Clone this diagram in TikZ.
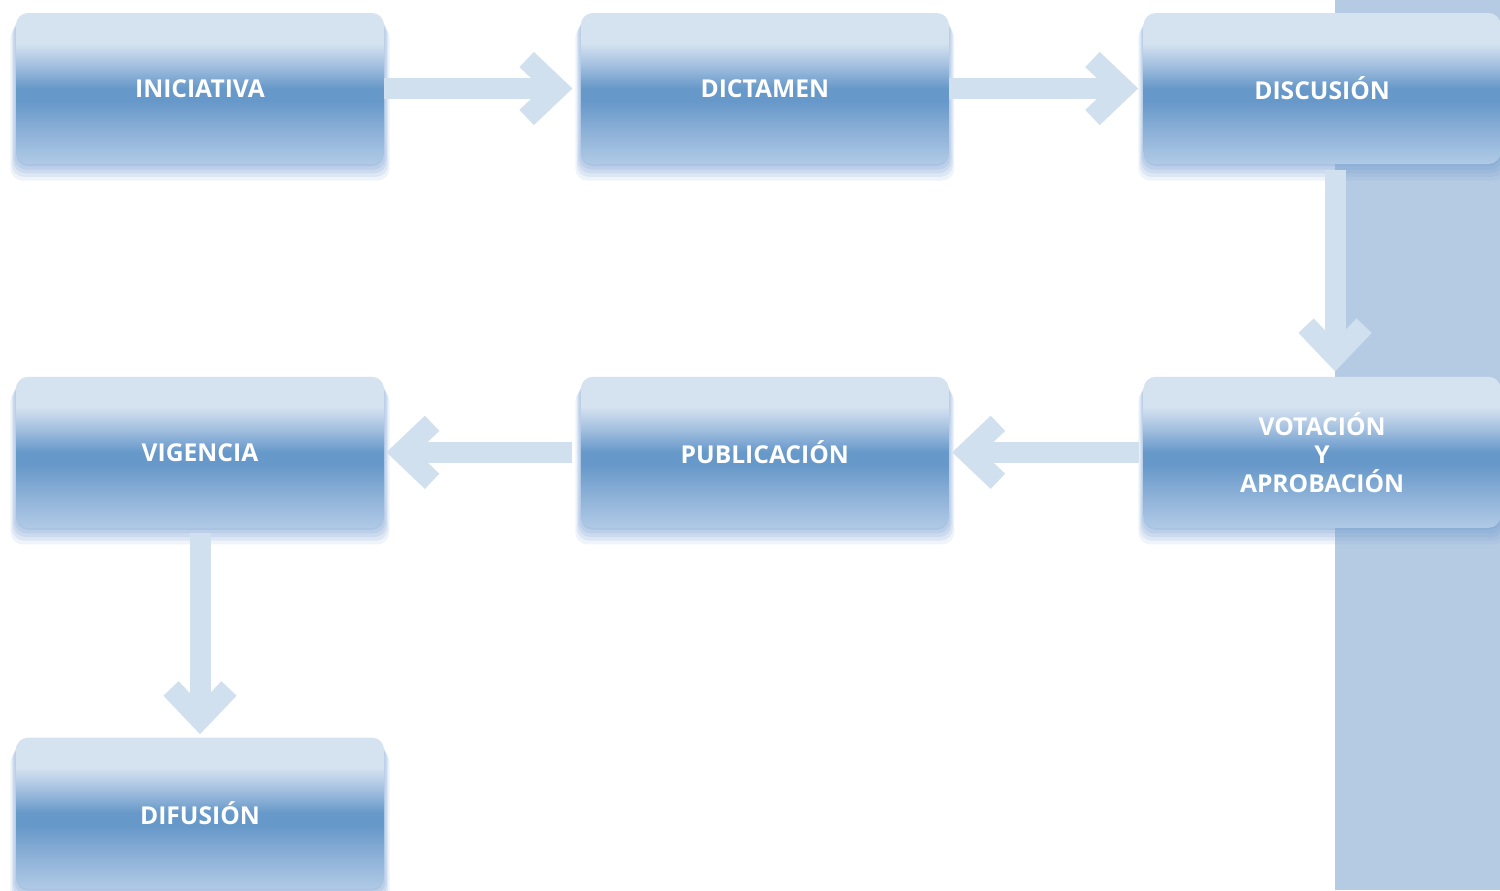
\documentclass[tikz,border=0pt]{standalone}
\usepackage{fontspec}
\setmainfont{Open Sans}
\usepackage{tikz}
\usetikzlibrary{arrows.meta, positioning, shadows}
\definecolor{stripBlue}{RGB}{181,203,227}
\definecolor{flowBlue}{RGB}{209,224,238}
\definecolor{boxTop}{RGB}{213,226,240}
\definecolor{boxUp}{RGB}{165,193,224}
\definecolor{boxMid}{RGB}{102,152,201}
\definecolor{boxLow}{RGB}{140,176,215}
\definecolor{boxBot}{RGB}{176,202,230}
\definecolor{glowBlue}{RGB}{120,160,210}
\pgfdeclareverticalshading{stageshade}{100bp}{color(0bp)=(boxBot); color(25bp)=(boxBot);
  color(36bp)=(boxLow); color(46bp)=(boxMid); color(50bp)=(boxMid);
  color(58bp)=(boxUp); color(65bp)=(boxTop); color(100bp)=(boxTop)}

\begin{document}
\begin{tikzpicture}[x=0.5pt, y=-0.5pt,
  glow/.style={
    general shadow={fill=glowBlue, opacity=.12, shadow yshift=-7pt, shadow scale=1.03},
    general shadow={fill=glowBlue, opacity=.15, shadow yshift=-5.5pt, shadow scale=1.022},
    general shadow={fill=glowBlue, opacity=.18, shadow yshift=-4pt, shadow scale=1.015},
    general shadow={fill=glowBlue, opacity=.2, shadow yshift=-2.5pt, shadow scale=1.008},
    general shadow={fill=glowBlue, opacity=.25, shadow yshift=-1pt}},
  stage/.style={rectangle, rounded corners=6pt, shading=stageshade, glow,
                minimum width=184pt, minimum height=75.5pt, inner sep=0pt,
                align=center, text=white, font=\bfseries\fontsize{12.3}{14.25}\selectfont},
  flow/.style={line width=10.5pt, flowBlue,
               -{Straight Barb[length=15.25pt, width=29pt, sharp]}},
]
  \useasboundingbox (0,0) rectangle (1500,890);
  % side band
  \fill[stripBlue] (1335,0) rectangle (1500,890);

  % first row
  \node[stage] (iniciativa) at (200,88.5) {INICIATIVA};
  \node[stage, right=98pt of iniciativa] (dictamen) {DICTAMEN};
  \node[stage, minimum width=178.5pt, right=97pt of dictamen] (discusion) {DISCUSIÓN};

  % second row, right to left
  \node[stage, minimum width=178.5pt, below=106pt of discusion] (votacion) {VOTACIÓN\\Y\\APROBACIÓN};
  \node[stage, left=97pt of votacion] (publicacion) {PUBLICACIÓN};
  \node[stage, left=98pt of publicacion] (vigencia) {VIGENCIA};

  % last step
  \node[stage, below=104.5pt of vigencia] (difusion) {DIFUSIÓN};

  \draw[flow, shorten >=4pt] (iniciativa) -- (dictamen);
  \draw[flow, shorten >=2.5pt] (dictamen) -- (discusion);
  \draw[flow, shorten <=3pt, shorten >=2.5pt] ([xshift=6.5pt]discusion.south) -- ([xshift=6.5pt]votacion.north);
  \draw[flow, shorten <=2pt, shorten >=1.5pt] (votacion) -- (publicacion);
  \draw[flow, shorten <=4pt, shorten >=1pt] (publicacion) -- (vigencia);
  \draw[flow, shorten <=2.5pt, shorten >=1.5pt] (vigencia) -- (difusion);
\end{tikzpicture}
\end{document}
